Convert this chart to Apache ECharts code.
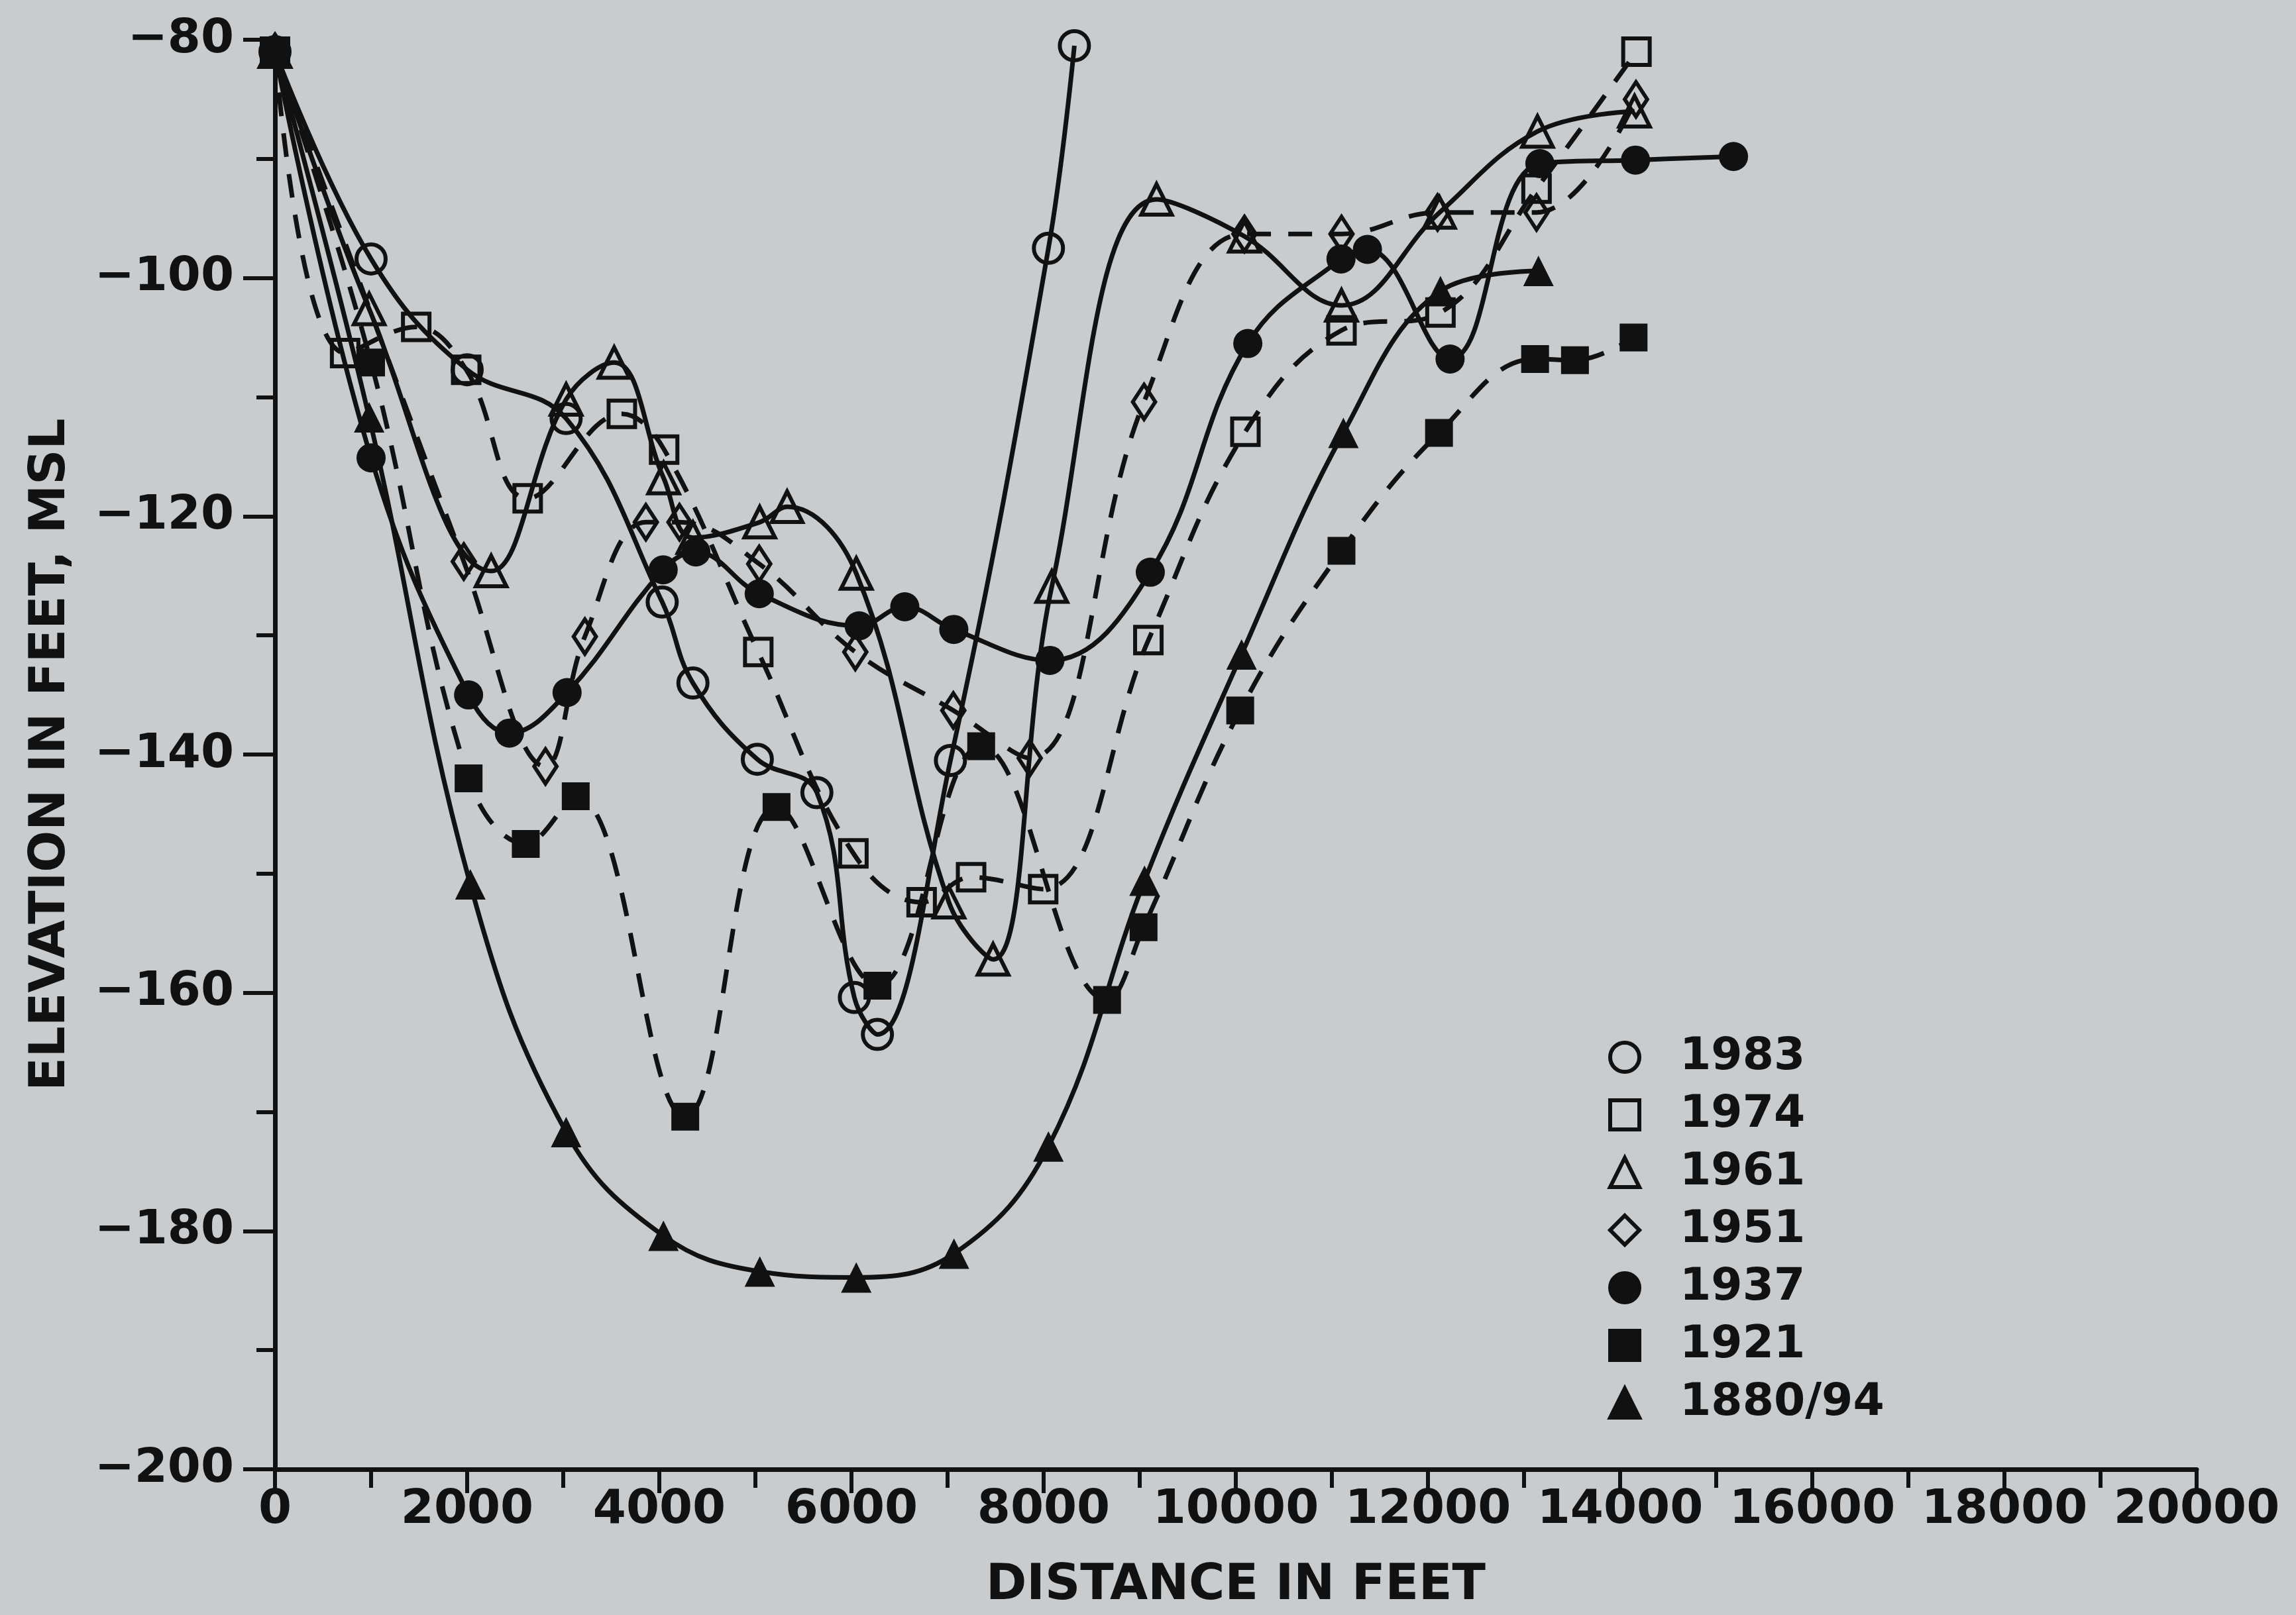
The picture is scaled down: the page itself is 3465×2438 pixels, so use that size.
<!DOCTYPE html>
<html>
<head>
<meta charset="utf-8">
<script src="https://cdn.jsdelivr.net/npm/echarts@6/dist/echarts.min.js"></script>
<style>
  html, body { margin: 0; padding: 0; background: #c9ccce; }
  #main { width: 3465px; height: 2438px; }
</style>
</head>
<body>
<div id="main"></div>
<script>
// survey profiles, distance in feet / elevation in feet MSL
var dist1983 = [0, 1000, 2000, 3030, 4030, 4350, 5020, 5640, 6030, 6270, 7030, 8050, 8320];
var elev1983 = [-81, -98.4, -107.7, -111.8, -127.2, -134, -140.4, -143.2, -160.4, -163.5, -140.5, -97.5, -80.5];

var dist1974 = [0, 730, 1470, 1990, 2630, 3610, 4050, 5030, 6020, 6730, 7245, 7995, 9090, 10100, 11100, 12130, 13130, 14170];
var elev1974 = [-81, -106.3, -104.1, -107.7, -118.5, -111.4, -114.4, -131.4, -148.3, -152.4, -150.3, -151.3, -130.4, -112.9, -104.4, -102.9, -92.5, -81];

var dist1961 = [0, 980, 2250, 3030, 3530, 4045, 4350, 5045, 5330, 6050, 7014, 7474, 8085, 9175, 10090, 11100, 12120, 13140, 14150];
var elev1961 = [-81, -102.6, -124.6, -110.2, -107.1, -116.8, -121.8, -120.5, -119.2, -124.8, -152.4, -157.2, -125.9, -93.4, -96.5, -102.3, -94.5, -87.7, -86];

var dist1951 = [0, 1965, 2815, 3225, 3860, 4210, 5040, 6040, 7060, 7855, 9045, 10090, 11100, 12100, 13130, 14165];
var elev1951 = [-81, -123.8, -141, -130.1, -120.5, -120.5, -124, -131.4, -136.3, -140.3, -110.4, -96.3, -96.3, -94.5, -94.5, -85];

var dist1937 = [0, 1000, 2015, 2440, 3040, 4040, 4380, 5040, 6080, 6555, 7065, 8065, 9110, 10125, 11095, 11370, 12230, 13165, 14160, 15180];
var elev1937 = [-81, -115.1, -135, -138.2, -134.8, -124.5, -123, -126.5, -129.2, -127.6, -129.5, -132.1, -124.7, -105.5, -98.4, -97.6, -106.8, -90.4, -90.1, -89.8];

var dist1921 = [0, 1000, 2015, 2610, 3130, 4270, 5220, 6270, 7350, 8660, 9040, 10046, 11100, 12115, 13115, 13530, 14140];
var elev1921 = [-81, -107.1, -142, -147.5, -143.5, -170.4, -144.4, -159.4, -139.3, -160.6, -154.5, -136.3, -122.9, -113, -106.8, -106.9, -105];

var dist1880 = [0, 980, 2033, 3030, 4043, 5046, 6050, 7067, 8050, 9050, 10060, 11120, 12130, 13150];
var elev1880 = [-81, -111.7, -150.9, -171.7, -180.4, -183.4, -183.9, -181.9, -172.9, -150.6, -131.6, -113, -101.1, -99.4];

var ink = '#111';
var font = 'DejaVu Sans';

function pairs(xs, ys) {
  var out = [];
  for (var i = 0; i < xs.length; i++) out.push([xs[i], ys[i]]);
  return out;
}

function profile(name, xs, ys, symbol, size, hollow, dashed) {
  return {
    name: name,
    type: 'line',
    data: pairs(xs, ys),
    smooth: 0.4,
    clip: false,
    symbol: symbol,
    symbolSize: size,
    lineStyle: { color: ink, width: 7, type: dashed ? [36, 26] : 'solid' },
    itemStyle: hollow
      ? { color: 'rgba(0,0,0,0)', borderColor: ink, borderWidth: 6 }
      : { color: ink, borderColor: ink, borderWidth: 0 },
    emphasis: { disabled: true }
  };
}

var myChart = echarts.init(document.getElementById('main'));

var option = {
  animation: false,
  backgroundColor: '#c9ccce',
  textStyle: { fontFamily: font, color: ink },
  grid: { left: 415, right: 150, top: 60, bottom: 220, outerBoundsMode: 'none' },
  legend: {
    orient: 'vertical',
    left: 2427,
    top: 1562,
    padding: 0,
    itemWidth: 44,
    itemHeight: 44,
    itemGap: 19,
    itemStyle: { borderWidth: 6 },
    textStyle: { fontSize: 68, fontWeight: 'bold', color: ink, fontFamily: font, lineHeight: 60, padding: [0, 0, 0, 56] },
    data: [
      { name: '1983', icon: 'circle' },
      { name: '1974', icon: 'rect' },
      { name: '1961', icon: 'triangle' },
      { name: '1951', icon: 'diamond' },
      { name: '1937', icon: 'circle' },
      { name: '1921', icon: 'rect' },
      { name: '1880/94', icon: 'triangle' }
    ]
  },
  xAxis: {
    type: 'value',
    min: 0,
    max: 20000,
    interval: 2000,
    name: 'DISTANCE IN FEET',
    nameLocation: 'middle',
    nameGap: 140,
    nameTextStyle: { fontSize: 74, fontWeight: 'bold', color: ink, fontFamily: font },
    axisLine: { show: true, onZero: false, lineStyle: { color: ink, width: 7 } },
    axisTick: { show: true, length: 36, lineStyle: { color: ink, width: 6 } },
    minorTick: { show: true, splitNumber: 2, length: 28, lineStyle: { color: ink, width: 6 } },
    axisLabel: {
      fontSize: 72, fontWeight: 'bold', color: ink, fontFamily: font, margin: 26,
      formatter: function (v) { return String(v); }
    },
    splitLine: { show: false }
  },
  yAxis: {
    type: 'value',
    min: -200,
    max: -80,
    interval: 20,
    name: 'ELEVATION IN FEET, MSL',
    nameLocation: 'middle',
    nameGap: 300,
    nameRotate: 90,
    nameTextStyle: { fontSize: 74, fontWeight: 'bold', color: ink, fontFamily: font },
    axisLine: { show: true, onZero: false, lineStyle: { color: ink, width: 7 } },
    axisTick: { show: true, length: 48, lineStyle: { color: ink, width: 6 } },
    minorTick: { show: true, splitNumber: 2, length: 28, lineStyle: { color: ink, width: 6 } },
    axisLabel: {
      fontSize: 72, fontWeight: 'bold', color: ink, fontFamily: font, margin: 62,
      formatter: function (v) { return v < 0 ? '\u2212' + Math.abs(v) : String(v); }
    },
    splitLine: { show: false }
  },
  series: [
    profile('1983', dist1983, elev1983, 'circle', 44, true, false),
    profile('1974', dist1974, elev1974, 'rect', 40, true, true),
    profile('1961', dist1961, elev1961, 'triangle', 46, true, false),
    profile('1951', dist1951, elev1951, 'diamond', [34, 52], true, true),
    profile('1937', dist1937, elev1937, 'circle', 44, false, false),
    profile('1921', dist1921, elev1921, 'rect', 42, false, true),
    profile('1880/94', dist1880, elev1880, 'triangle', 46, false, false)
  ]
};

myChart.setOption(option);
</script>
</body>
</html>
